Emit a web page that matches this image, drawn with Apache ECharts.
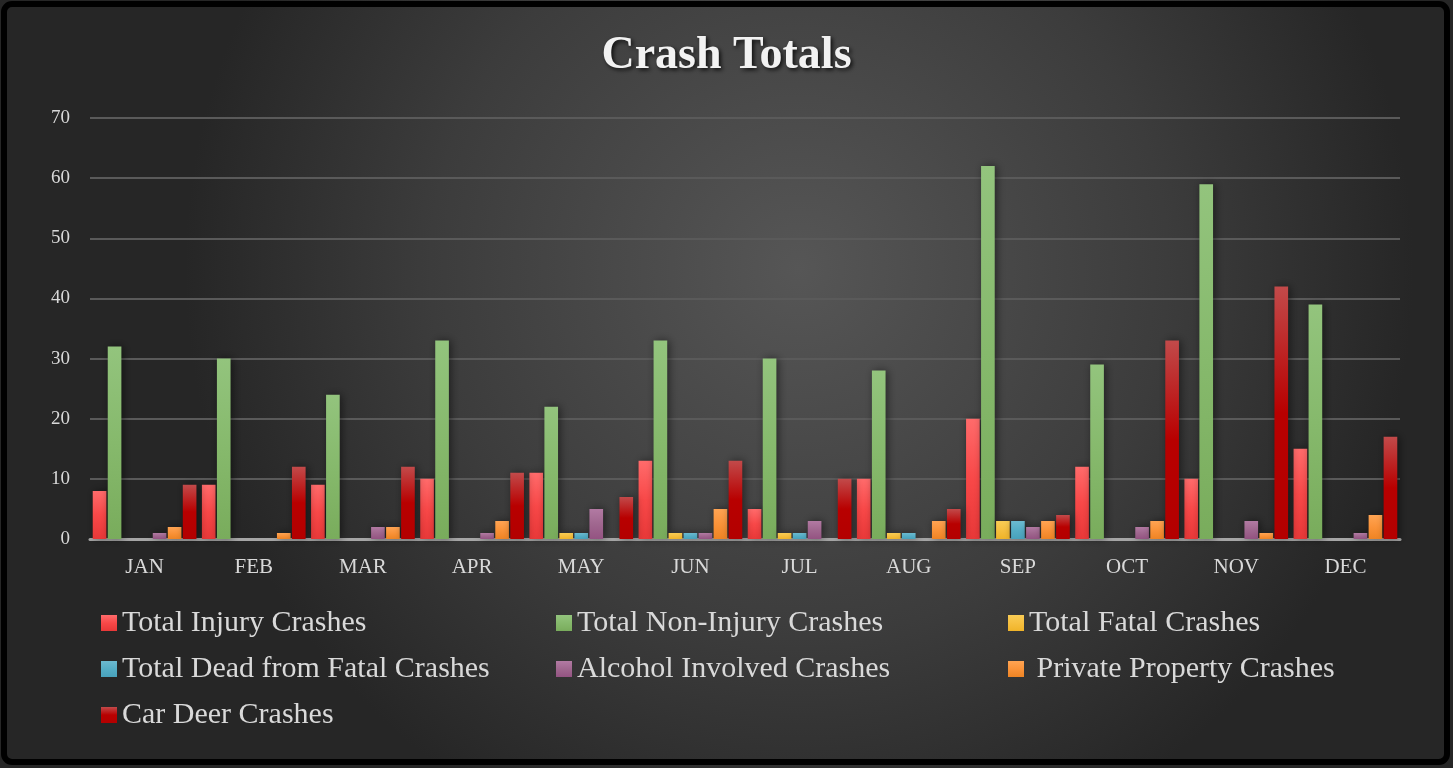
<!DOCTYPE html>
<html><head><meta charset="utf-8">
<script src="https://cdn.jsdelivr.net/npm/echarts@6/dist/echarts.min.js"></script>
<style>html,body{margin:0;padding:0;background:#fff;}#c{width:1453px;height:768px;}</style>
</head><body><div id="c"></div>
<script>
const categories = ['JAN','FEB','MAR','APR','MAY','JUN','JUL','AUG','SEP','OCT','NOV','DEC'];
const injury    = [8, 9, 9, 10, 11, 13, 5, 10, 20, 12, 10, 15];
const nonInjury = [32, 30, 24, 33, 22, 33, 30, 28, 62, 29, 59, 39];
const fatal     = [0, 0, 0, 0, 1, 1, 1, 1, 3, 0, 0, 0];
const dead      = [0, 0, 0, 0, 1, 1, 1, 1, 3, 0, 0, 0];
const alcohol   = [1, 0, 2, 1, 5, 1, 3, 0, 2, 2, 3, 1];
const privateP  = [2, 1, 2, 3, 0, 5, 0, 3, 3, 3, 1, 4];
const deer      = [9, 12, 12, 11, 7, 13, 10, 5, 4, 33, 42, 17];
const seriesNames = ['Total Injury Crashes','Total Non-Injury Crashes','Total Fatal Crashes','Total Dead from Fatal Crashes','Alcohol Involved Crashes',' Private Property Crashes','Car Deer Crashes'];
const seriesData = [injury, nonInjury, fatal, dead, alcohol, privateP, deer];
const grads = [
  ['#ff6b6b','#f84848','#e83838'],
  ['#93c47d','#86b96c','#79ac5c'],
  ['#f8cc55','#f6c040','#f0b429'],
  ['#6cbad0','#55aec6','#48a2bc'],
  ['#b27aa3','#a0678f','#945382'],
  ['#ffa453','#fa9339','#ee8424'],
  ['#c24a4a','#b80000','#b30000']
];
function lg(c){return new echarts.graphic.LinearGradient(0,0,0,1,[{offset:0,color:c[0]},{offset:0.5,color:c[1]},{offset:1,color:c[2]}]);}
const chart = echarts.init(document.getElementById('c'));
const font = 'Liberation Serif, DejaVu Serif, serif';
const legendCols = [96, 551, 1003];
const legendRows = [603, 649, 695];
const legends = seriesNames.map((n,i)=>({
  left: legendCols[i%3], top: legendRows[Math.floor(i/3)], itemWidth:16, itemHeight:16, icon:'rect',
  textStyle:{fontFamily:font, fontSize:30, color:'#d9d9d9', padding:[0,0,0,0]}, itemGap:0,
  data:[n]
}));
chart.setOption({
  backgroundColor: {type:'radial', x:0.55, y:0.35, r:0.8, colorStops:[{offset:0,color:'#565656'},{offset:0.6,color:'#3c3c3c'},{offset:1,color:'#262626'}]},
  graphic: [{type:'rect', shape:{x:4,y:4,width:1443,height:758,r:8}, style:{fill:'none',stroke:'#000',lineWidth:6}, z:100}],
  title: {text:'Crash Totals', left:'center', top:28, textStyle:{fontFamily:font, fontSize:46, fontWeight:'bold', color:'#f2f2f2', textShadowColor:'rgba(0,0,0,0.8)', textShadowBlur:4, textShadowOffsetX:2, textShadowOffsetY:2}},
  grid: {left:90, right:53, top:118, bottom:229},
  legend: legends,
  xAxis: {type:'category', data:categories,
    axisLine:{lineStyle:{color:'#a6a6a6', width:3}}, axisTick:{show:false},
    axisLabel:{fontFamily:font, fontSize:21, color:'#d9d9d9', margin:18}},
  yAxis: {type:'value', min:0, max:70, interval:10,
    axisLabel:{fontFamily:font, fontSize:19, color:'#d9d9d9', margin:20},
    splitLine:{lineStyle:{color:'#5a5a5a', width:2}}, axisLine:{show:false}, axisTick:{show:false}},
  series: seriesData.map((d,i)=>({
    name: seriesNames[i], type:'bar', data:d, barGap:'10%', barCategoryGap:'5%',
    itemStyle:{color:lg(grads[i]), shadowColor:'rgba(0,0,0,0.5)', shadowBlur:8, shadowOffsetX:2, shadowOffsetY:0}
  }))
});
</script></body></html>
